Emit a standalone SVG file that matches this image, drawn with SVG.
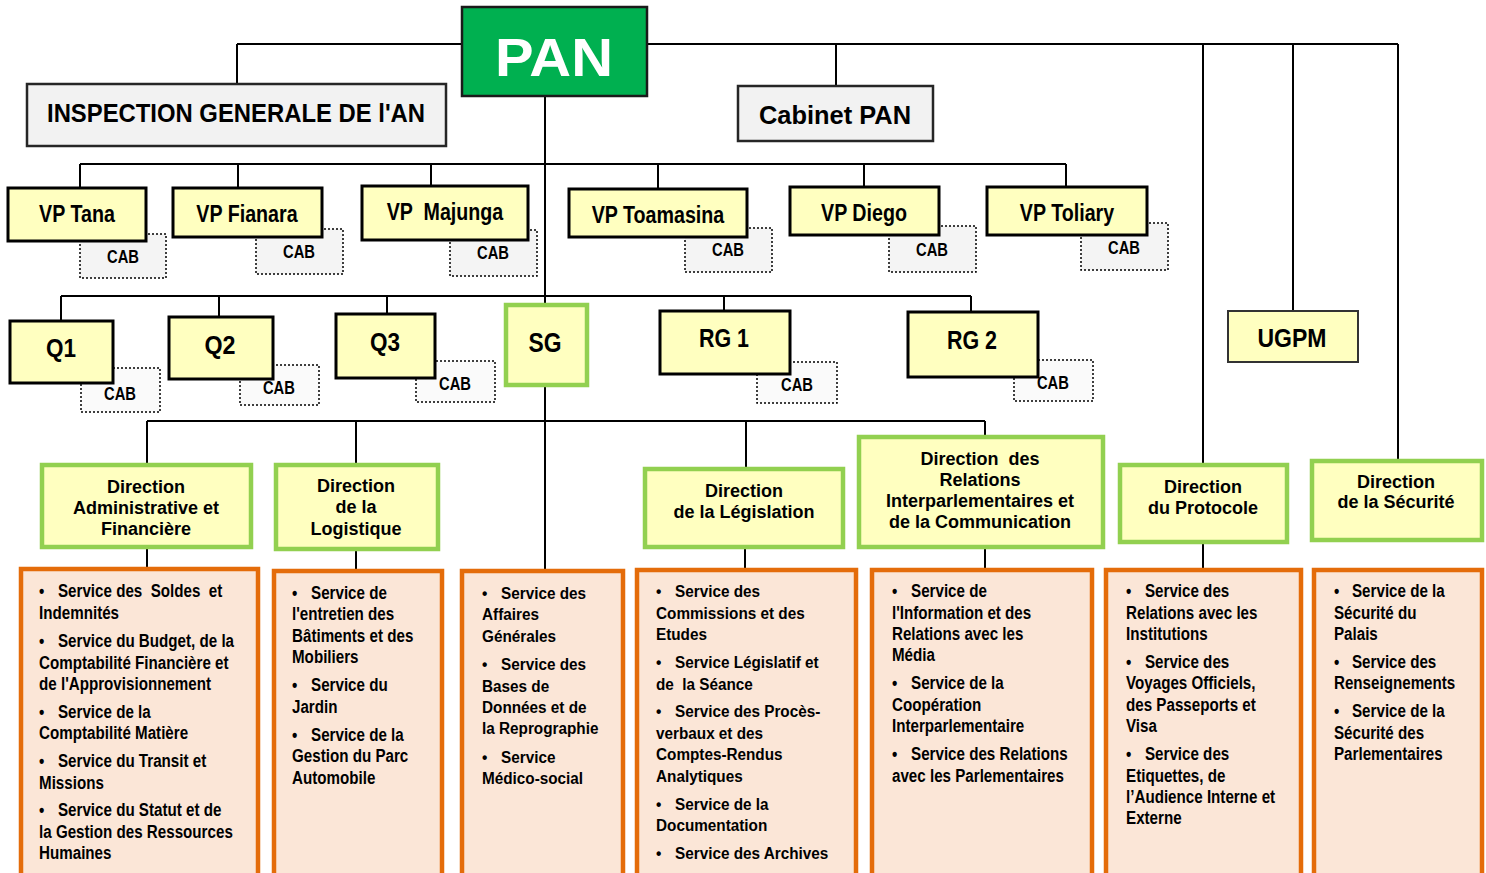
<svg xmlns="http://www.w3.org/2000/svg" width="1486" height="873" viewBox="0 0 1486 873">
<style>
.bg{fill:#ffffff}
.ln{stroke:#000;stroke-width:2;fill:none}
.vp{fill:#ffffc0;stroke:#000;stroke-width:3}
.cab{fill:#f4f4f4;stroke:#000;stroke-width:1.5;stroke-dasharray:2 2}
.dir{fill:#ffffc0;stroke:#92d050;stroke-width:4.5}
.svc{fill:#fbe6d7;stroke:#e46c0a;stroke-width:4.5}
.gray{fill:#f2f2f2;stroke:#262626;stroke-width:2.5}
text{font-weight:bold;fill:#000;font-family:"Liberation Sans",Arial,sans-serif}
.c{text-anchor:middle}
.vpt{font-size:24px}
.cabt{font-size:18px}
.qt{font-size:26px}
.dt{font-size:18px}
.st{font-size:18.5px}
.sa{font-size:17px}
</style>
<rect class="bg" x="0" y="0" width="1486" height="873"/>

<g id="connectors">
  <path class="ln" d="M237,44 H1398 M237,44 V84 M836,44 V86 M1203,44 V465 M1293,44 V311 M1398,44 V461"/>
  <path class="ln" d="M545,96 V571"/>
  <path class="ln" d="M80,164 H1066 M80,164 V188 M238,164 V188 M431,164 V186 M658,164 V189 M864,164 V187 M1066,164 V187"/>
  <path class="ln" d="M61,296 H971 M61,296 V321 M219,296 V317 M387,296 V314 M724,296 V311 M971,296 V312"/>
  <path class="ln" d="M147,421 H985 M147,421 V465 M356,421 V465 M746,421 V469 M985,421 V437"/>
  <path class="ln" d="M147,547 V569 M356,549 V571 M745,547 V570 M985,547 V570 M1203,542 V570"/>
</g>

<g id="pan">
  <rect x="462" y="7" width="185" height="89" fill="#00b050" stroke="#1a1a1a" stroke-width="2.5"/>
  <text class="c" x="554" y="76" font-size="54" style="fill:#fff" textLength="118" lengthAdjust="spacingAndGlyphs">PAN</text>
</g>
<g id="inspection">
  <rect class="gray" x="27" y="84" width="419" height="62"/>
  <text class="c" x="236" y="122" font-size="26" textLength="378" lengthAdjust="spacingAndGlyphs">INSPECTION GENERALE DE l'AN</text>
</g>
<g id="cabinet">
  <rect class="gray" x="738" y="86" width="195" height="55" stroke-width="2"/>
  <text class="c" x="835" y="124" font-size="26" textLength="152" lengthAdjust="spacingAndGlyphs">Cabinet PAN</text>
</g>

<g id="vp-tana">
  <rect class="cab" x="80" y="234" width="86" height="44"/>
  <rect class="vp" x="8" y="188" width="138" height="53"/>
  <g transform="scale(0.82,1)">
    <text class="c vpt" x="93.9" y="222">VP Tana</text>
    <text class="c cabt" x="150" y="263">CAB</text>
  </g>
</g>
<g id="vp-fianara">
  <rect class="cab" x="256" y="229" width="87" height="45"/>
  <rect class="vp" x="173" y="188" width="149" height="49"/>
  <g transform="scale(0.82,1)">
    <text class="c vpt" x="301.2" y="222">VP Fianara</text>
    <text class="c cabt" x="364.6" y="258">CAB</text>
  </g>
</g>
<g id="vp-majunga">
  <rect class="cab" x="450" y="230" width="87" height="46"/>
  <rect class="vp" x="362" y="186" width="166" height="54"/>
  <g transform="scale(0.82,1)">
    <text class="c vpt" x="542.7" y="220" xml:space="preserve">VP  Majunga</text>
    <text class="c cabt" x="601.2" y="259">CAB</text>
  </g>
</g>
<g id="vp-toamasina">
  <rect class="cab" x="685" y="228" width="87" height="44"/>
  <rect class="vp" x="569" y="189" width="178" height="48"/>
  <g transform="scale(0.82,1)">
    <text class="c vpt" x="802.4" y="223">VP Toamasina</text>
    <text class="c cabt" x="887.8" y="256">CAB</text>
  </g>
</g>
<g id="vp-diego">
  <rect class="cab" x="889" y="226" width="87" height="46"/>
  <rect class="vp" x="790" y="187" width="149" height="48"/>
  <g transform="scale(0.82,1)">
    <text class="c vpt" x="1053.7" y="221">VP Diego</text>
    <text class="c cabt" x="1136.6" y="256">CAB</text>
  </g>
</g>
<g id="vp-toliary">
  <rect class="cab" x="1081" y="223" width="87" height="47"/>
  <rect class="vp" x="987" y="187" width="160" height="48"/>
  <g transform="scale(0.82,1)">
    <text class="c vpt" x="1301.2" y="221">VP Toliary</text>
    <text class="c cabt" x="1370.7" y="254">CAB</text>
  </g>
</g>

<g id="q1">
  <rect class="cab" x="81" y="368" width="79" height="44" style="fill:#fafafa"/>
  <rect class="vp" x="10" y="321" width="103" height="62"/>
  <text class="c qt" x="61" y="357" textLength="30" lengthAdjust="spacingAndGlyphs">Q1</text>
  <text class="c cabt" transform="scale(0.82,1)" x="146.3" y="400">CAB</text>
</g>
<g id="q2">
  <rect class="cab" x="240" y="365" width="79" height="40" style="fill:#fafafa"/>
  <rect class="vp" x="169" y="317" width="104" height="62"/>
  <text class="c qt" x="220" y="354" textLength="31" lengthAdjust="spacingAndGlyphs">Q2</text>
  <text class="c cabt" transform="scale(0.82,1)" x="340.2" y="394">CAB</text>
</g>
<g id="q3">
  <rect class="cab" x="416" y="361" width="79" height="41" style="fill:#fafafa"/>
  <rect class="vp" x="336" y="314" width="99" height="64"/>
  <text class="c qt" x="385" y="351" textLength="30" lengthAdjust="spacingAndGlyphs">Q3</text>
  <text class="c cabt" transform="scale(0.82,1)" x="554.9" y="390">CAB</text>
</g>
<g id="sg">
  <rect class="vp" x="506" y="305" width="81" height="80" style="stroke:#92d050;stroke-width:4.5"/>
  <text class="c" x="545" y="352" font-size="28" textLength="33" lengthAdjust="spacingAndGlyphs">SG</text>
</g>
<g id="rg1">
  <rect class="cab" x="757" y="362" width="80" height="41" style="fill:#fafafa"/>
  <rect class="vp" x="660" y="311" width="130" height="63"/>
  <text class="c qt" x="724" y="347" textLength="50" lengthAdjust="spacingAndGlyphs">RG 1</text>
  <text class="c cabt" transform="scale(0.82,1)" x="972" y="391">CAB</text>
</g>
<g id="rg2">
  <rect class="cab" x="1014" y="360" width="79" height="41" style="fill:#fafafa"/>
  <rect class="vp" x="908" y="312" width="130" height="65"/>
  <text class="c qt" x="972" y="349" textLength="50" lengthAdjust="spacingAndGlyphs">RG 2</text>
  <text class="c cabt" transform="scale(0.82,1)" x="1284.1" y="389">CAB</text>
</g>
<g id="ugpm">
  <rect class="vp" x="1228" y="311" width="130" height="51" style="stroke:#333;stroke-width:2"/>
  <text class="c qt" x="1292" y="347" textLength="69" lengthAdjust="spacingAndGlyphs">UGPM</text>
</g>

<g id="dir-daf">
  <rect class="dir" x="42" y="465" width="209" height="82"/>
  <text class="c dt" x="146" y="493">Direction</text>
  <text class="c dt" x="146" y="514">Administrative et</text>
  <text class="c dt" x="146" y="535">Financière</text>
</g>
<g id="dir-logistique">
  <rect class="dir" x="276" y="465" width="162" height="84"/>
  <text class="c dt" x="356" y="492">Direction</text>
  <text class="c dt" x="356" y="513">de la</text>
  <text class="c dt" x="356" y="535">Logistique</text>
</g>
<g id="dir-legislation">
  <rect class="dir" x="645" y="469" width="198" height="78"/>
  <text class="c dt" x="744" y="497">Direction</text>
  <text class="c dt" x="744" y="518">de la Législation</text>
</g>
<g id="dir-relations">
  <rect class="dir" x="859" y="437" width="244" height="110"/>
  <text class="c dt" x="980" y="465" xml:space="preserve">Direction  des</text>
  <text class="c dt" x="980" y="486">Relations</text>
  <text class="c dt" x="980" y="507">Interparlementaires et</text>
  <text class="c dt" x="980" y="528">de la Communication</text>
</g>
<g id="dir-protocole">
  <rect class="dir" x="1120" y="465" width="167" height="77"/>
  <text class="c dt" x="1203" y="493">Direction</text>
  <text class="c dt" x="1203" y="514">du Protocole</text>
</g>
<g id="dir-securite">
  <rect class="dir" x="1312" y="461" width="170" height="79"/>
  <text class="c dt" x="1396" y="488">Direction</text>
  <text class="c dt" x="1396" y="508">de la Sécurité</text>
</g>

<g id="svc-daf">
  <rect class="svc" x="21" y="569" width="237" height="320"/>
  <g class="st" transform="scale(0.82,1)">
    <text x="47.6" y="597">•</text><text x="70.7" y="597" xml:space="preserve">Service des  Soldes  et</text>
    <text x="47.6" y="619">Indemnités</text>
    <text x="47.6" y="647">•</text><text x="70.7" y="647">Service du Budget, de la</text>
    <text x="47.6" y="669">Comptabilité Financière et</text>
    <text x="47.6" y="690">de l'Approvisionnement</text>
    <text x="47.6" y="718">•</text><text x="70.7" y="718">Service de la</text>
    <text x="47.6" y="739">Comptabilité Matière</text>
    <text x="47.6" y="767">•</text><text x="70.7" y="767">Service du Transit et</text>
    <text x="47.6" y="789">Missions</text>
    <text x="47.6" y="816">•</text><text x="70.7" y="816">Service du Statut et de</text>
    <text x="47.6" y="838">la Gestion des Ressources</text>
    <text x="47.6" y="859">Humaines</text>
  </g>
</g>
<g id="svc-logistique">
  <rect class="svc" x="274" y="571" width="168" height="320"/>
  <g class="st" transform="scale(0.82,1)">
    <text x="356.1" y="599">•</text><text x="379.3" y="599">Service de</text>
    <text x="356.1" y="620">l'entretien des</text>
    <text x="356.1" y="642">Bâtiments et des</text>
    <text x="356.1" y="663">Mobiliers</text>
    <text x="356.1" y="691">•</text><text x="379.3" y="691">Service du</text>
    <text x="356.1" y="713">Jardin</text>
    <text x="356.1" y="741">•</text><text x="379.3" y="741">Service de la</text>
    <text x="356.1" y="762">Gestion du Parc</text>
    <text x="356.1" y="784">Automobile</text>
  </g>
</g>
<g id="svc-sg">
  <rect class="svc" x="462" y="571" width="161" height="320"/>
  <g class="sa" transform="scale(0.9,1)">
    <text x="535.6" y="599">•</text><text x="556.7" y="599">Service des</text>
    <text x="535.6" y="620">Affaires</text>
    <text x="535.6" y="642">Générales</text>
    <text x="535.6" y="670">•</text><text x="556.7" y="670">Service des</text>
    <text x="535.6" y="692">Bases de</text>
    <text x="535.6" y="713">Données et de</text>
    <text x="535.6" y="734">la Reprographie</text>
    <text x="535.6" y="763">•</text><text x="556.7" y="763">Service</text>
    <text x="535.6" y="784">Médico-social</text>
  </g>
</g>
<g id="svc-legislation">
  <rect class="svc" x="637" y="570" width="219" height="320"/>
  <g class="sa" transform="scale(0.9,1)">
    <text x="728.9" y="597">•</text><text x="750" y="597">Service des</text>
    <text x="728.9" y="619">Commissions et des</text>
    <text x="728.9" y="640">Etudes</text>
    <text x="728.9" y="668">•</text><text x="750" y="668">Service Législatif et</text>
    <text x="728.9" y="690" xml:space="preserve">de  la Séance</text>
    <text x="728.9" y="717">•</text><text x="750" y="717">Service des Procès-</text>
    <text x="728.9" y="739">verbaux et des</text>
    <text x="728.9" y="760">Comptes-Rendus</text>
    <text x="728.9" y="782">Analytiques</text>
    <text x="728.9" y="810">•</text><text x="750" y="810">Service de la</text>
    <text x="728.9" y="831">Documentation</text>
    <text x="728.9" y="859">•</text><text x="750" y="859">Service des Archives</text>
  </g>
</g>
<g id="svc-relations">
  <rect class="svc" x="872" y="570" width="220" height="320"/>
  <g class="st" transform="scale(0.82,1)">
    <text x="1087.8" y="597">•</text><text x="1111" y="597">Service de</text>
    <text x="1087.8" y="619">l'Information et des</text>
    <text x="1087.8" y="640">Relations avec les</text>
    <text x="1087.8" y="661">Média</text>
    <text x="1087.8" y="689">•</text><text x="1111" y="689">Service de la</text>
    <text x="1087.8" y="711">Coopération</text>
    <text x="1087.8" y="732">Interparlementaire</text>
    <text x="1087.8" y="760">•</text><text x="1111" y="760">Service des Relations</text>
    <text x="1087.8" y="782">avec les Parlementaires</text>
  </g>
</g>
<g id="svc-protocole">
  <rect class="svc" x="1106" y="570" width="195" height="320"/>
  <g class="st" transform="scale(0.82,1)">
    <text x="1373.2" y="597">•</text><text x="1396.3" y="597">Service des</text>
    <text x="1373.2" y="619">Relations avec les</text>
    <text x="1373.2" y="640">Institutions</text>
    <text x="1373.2" y="668">•</text><text x="1396.3" y="668">Service des</text>
    <text x="1373.2" y="689">Voyages Officiels,</text>
    <text x="1373.2" y="711">des Passeports et</text>
    <text x="1373.2" y="732">Visa</text>
    <text x="1373.2" y="760">•</text><text x="1396.3" y="760">Service des</text>
    <text x="1373.2" y="782">Etiquettes, de</text>
    <text x="1373.2" y="803">l’Audience Interne et</text>
    <text x="1373.2" y="824">Externe</text>
  </g>
</g>
<g id="svc-securite">
  <rect class="svc" x="1314" y="570" width="168" height="320"/>
  <g class="st" transform="scale(0.82,1)">
    <text x="1626.8" y="597">•</text><text x="1648.8" y="597">Service de la</text>
    <text x="1626.8" y="619">Sécurité du</text>
    <text x="1626.8" y="640">Palais</text>
    <text x="1626.8" y="668">•</text><text x="1648.8" y="668">Service des</text>
    <text x="1626.8" y="689">Renseignements</text>
    <text x="1626.8" y="717">•</text><text x="1648.8" y="717">Service de la</text>
    <text x="1626.8" y="739">Sécurité des</text>
    <text x="1626.8" y="760">Parlementaires</text>
  </g>
</g>
</svg>
